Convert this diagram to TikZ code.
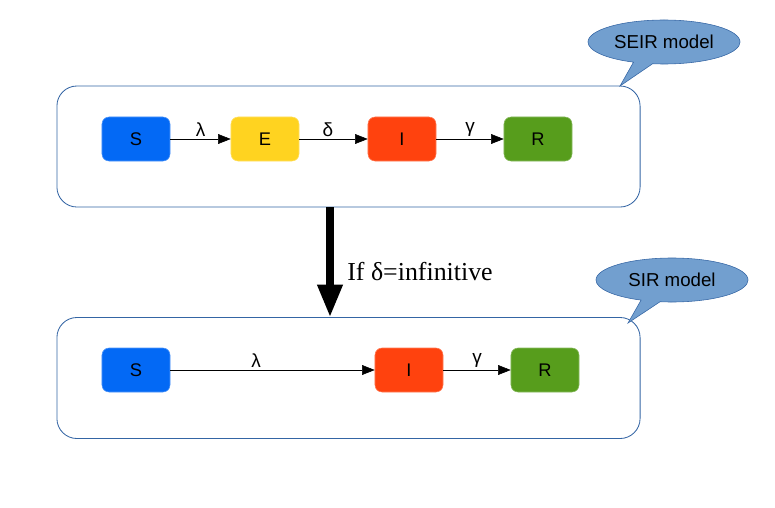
\documentclass[tikz,border=0pt]{standalone}
\usepackage{fontspec}
\setmainfont{Liberation Sans}
\newfontfamily\serifrm{Liberation Serif}
\usetikzlibrary{arrows.meta,shapes.callouts}

\definecolor{sblue}{HTML}{0369F5}
\definecolor{eyellow}{HTML}{FFD320}
\definecolor{ired}{HTML}{FF420E}
\definecolor{rgreen}{HTML}{579D1C}
\definecolor{frameblue}{HTML}{3465A4}
\definecolor{bubble}{HTML}{729FCF}

\tikzset{
	state/.style={rectangle,rounded corners=5pt,minimum width=1.7cm,minimum height=1.1cm,
		inner sep=0pt,font=\fontsize{13}{15}\selectfont},
	model/.style={rectangle,rounded corners=0.5cm,draw=frameblue,line width=0.6pt,
		minimum width=14.575cm,minimum height=3.025cm},
	bubbletext/.style={ellipse callout,draw=frameblue,fill=bubble,thin,
		minimum width=3.8cm,minimum height=1.1cm,inner sep=0pt,font=\fontsize{13.3}{15}\selectfont},
	flow/.style={-{Triangle[length=9pt,width=7pt]},thin},
	rate/.style={above,inner sep=1.5pt,font=\fontsize{13.5}{15}\selectfont}
}

\begin{document}
\begin{tikzpicture}[x=0.025cm,y=-0.025cm]
		\useasboundingbox (0,0) rectangle (775,507);

		\node(seir) at (348.5,146.5)[model]{};
		\node(sir) at (348.5,378)[model]{};

		\node(s1) at (136,139)[state,fill=sblue,draw=sblue!70]{S};
		\node(e1) at (265,139)[state,fill=eyellow,draw=eyellow!70]{E};
		\node(i1) at (402,139)[state,fill=ired,draw=ired!70]{I};
		\node(r1) at (538,139)[state,fill=rgreen,draw=rgreen!70]{R};
			\draw[flow] (s1) -- node[rate]{λ} (e1);
			\draw[flow] (e1) -- node[rate,pos=0.42]{δ} (i1);
			\draw[flow] (i1) -- node[rate]{γ} (r1);

		\node(s2) at (136,370)[state,fill=sblue,draw=sblue!70]{S};
		\node(i2) at (409,370)[state,fill=ired,draw=ired!70]{I};
		\node(r2) at (545,370)[state,fill=rgreen,draw=rgreen!70]{R};
			\draw[flow] (s2) -- node[rate,pos=0.42]{λ} (i2);
			\draw[flow] (i2) -- node[rate]{γ} (r2);

		\draw[line width=5pt,-{Triangle[length=23pt,width=17pt]}]
			([xshift=-0.4625cm]seir.south) -- ([xshift=-0.4625cm]sir.north)
			node[pos=0.58,right=6.5pt,font=\serifrm\fontsize{18.4}{20}\selectfont]{If δ=infinitive};

		\coordinate(tip1) at (620,86);
		\coordinate(tip2) at (628,323);
		\node(seirnote) at (664,42)[bubbletext,callout absolute pointer=(tip1)]{SEIR model};
		\node(sirnote) at (672,280)[bubbletext,callout absolute pointer=(tip2)]{SIR model};

	\end{tikzpicture}
\end{document}
